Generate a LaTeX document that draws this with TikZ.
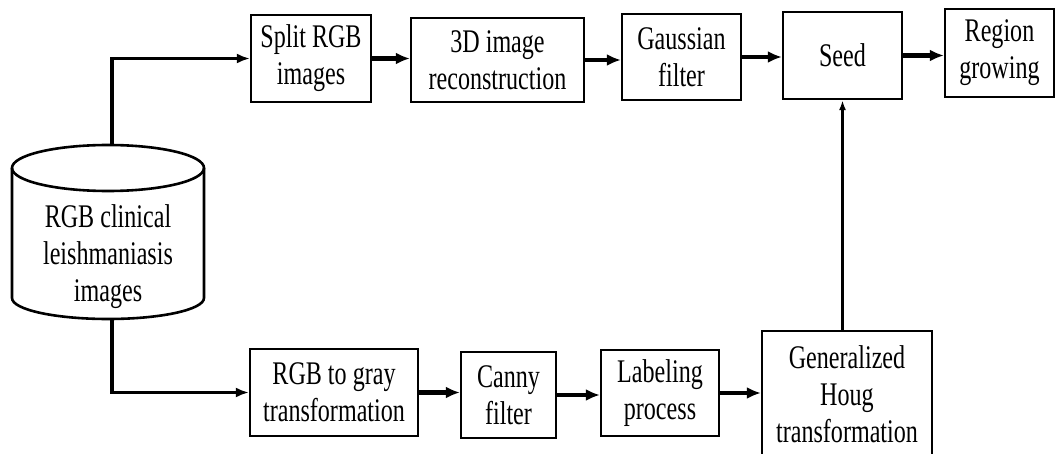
\documentclass[tikz,border=0pt]{standalone}
\usepackage{fontspec}
\setmainfont[FakeStretch=0.73]{Liberation Serif}
\usetikzlibrary{arrows.meta,calc}
\begin{document}
\begin{tikzpicture}[x=1pt,y=-1pt,
  txt/.style={align=center, font=\fontsize{33}{37}\selectfont},
  box/.style={txt, draw, line width=2.2pt, inner sep=0pt},
  flow/.style={line width=4.4pt, -{Latex[length=14pt,width=12pt]}},
  link/.style={line width=3.4pt, -{Latex[length=13pt,width=10pt]}},
  thinarrow/.style={line width=2.2pt, -{Latex[length=10pt,width=7pt]}},
  dbline/.style={line width=2.6pt}]
\useasboundingbox (0,0) rectangle (1056,454);
% top row
\node[box, minimum width=120pt, minimum height=87pt] (split) at (311,58.5) {Split RGB\\images};
\node[box, minimum width=173pt, minimum height=84pt] (rec) at (497.5,60) {3D image\\reconstruction};
\node[box, minimum width=119pt, minimum height=86pt] (gauss) at (681.5,57) {Gaussian\\filter};
\node[box, minimum width=119pt, minimum height=87pt] (seed) at (842.5,55.5) {Seed};
\node[box, minimum width=109pt, minimum height=88pt] (region) at (999.5,53) {Region\\growing};
% bottom row
\node[box, minimum width=168pt, minimum height=87pt] (gray) at (334,392.5) {RGB to gray\\transformation};
\node[box, minimum width=95pt, minimum height=86pt] (canny) at (508.5,395) {Canny\\filter};
\node[box, minimum width=118pt, minimum height=86pt] (label) at (660,393) {Labeling\\process};
\node[box, minimum width=170pt, minimum height=127pt, text depth=0pt] (gen) at (847,394.5) {Generalized\\Houg\\transformation};
% database cylinder
\draw[dbline] (12,168) -- (12,298) arc[start angle=180, end angle=0, x radius=96, y radius=21] -- (204,168);
\draw[dbline] (108,168) ellipse[x radius=96, y radius=23];
\node[txt] (db) at (108,257) {RGB clinical\\leishmaniasis\\images};
\coordinate (dbtop) at (112,145);
\coordinate (dbbot) at (112,319);
% connectors
\draw[link] (dbtop) |- (split.west);
\draw[link] (dbbot) |- (gray.west);
\draw[flow] (split.east) -- (split.east -| rec.west);
\draw[flow] (rec.east) -- (rec.east -| gauss.west);
\draw[flow] (gauss.east) -- (gauss.east -| seed.west);
\draw[flow] (seed.east) -- (seed.east -| region.west);
\draw[flow] (gray.east) -- (gray.east -| canny.west);
\draw[flow] (canny.east) -- (canny.east -| label.west);
\draw[flow] (label.east) -- (label.east -| gen.west);
\draw[thinarrow] (seed.south |- gen.north) -- (seed.south);
\end{tikzpicture}
\end{document}
